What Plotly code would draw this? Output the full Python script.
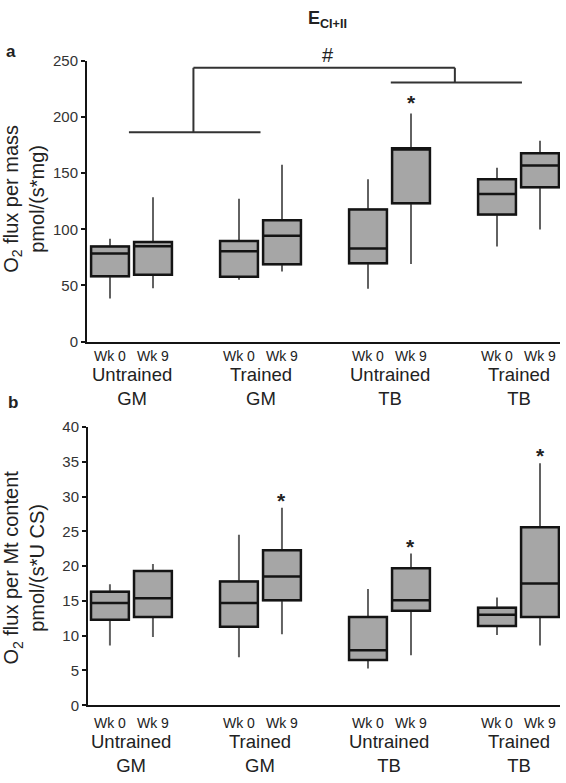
import plotly.graph_objects as go

# ---------------- data ----------------
groups = ["Untrained<br>GM", "Trained<br>GM", "Untrained<br>TB", "Trained<br>TB"]
weeks = ["Wk 0", "Wk 9"]
positions = [0, 1, 3, 4, 6, 7, 9, 10]          # Wk0/Wk9 for each group
group_centers = [0.5, 3.5, 6.5, 9.5]

# Panel a: O2 flux per mass, pmol/(s*mg)
a_low = [38.3, 47.6, 55.1, 62.5, 47.0, 69.1, 84.8, 99.9]
a_q1 = [58.1, 59.5, 57.8, 68.8, 69.7, 123.1, 113.2, 137.4]
a_med = [78.4, 85.0, 80.4, 94.3, 83.0, 171.0, 131.5, 156.8]
a_q3 = [84.8, 88.6, 89.7, 108.0, 117.6, 172.2, 144.6, 167.8]
a_high = [91.5, 128.6, 127.2, 157.4, 144.6, 203.2, 154.8, 178.8]
a_ticks = [0, 50, 100, 150, 200, 250]
a_star_x = [7]
a_star_y = [213]

# Panel b: O2 flux per Mt content, pmol/(s*U CS)
b_low = [8.6, 9.8, 6.9, 10.2, 5.3, 7.2, 10.1, 8.6]
b_q1 = [12.3, 12.7, 11.3, 15.1, 6.5, 13.6, 11.4, 12.7]
b_med = [14.7, 15.4, 14.7, 18.5, 7.9, 15.1, 13.0, 17.5]
b_q3 = [16.3, 19.3, 17.8, 22.3, 12.7, 19.7, 14.0, 25.6]
b_high = [17.4, 20.3, 24.5, 28.4, 16.7, 21.8, 15.5, 34.8]
b_ticks = [0, 5, 10, 15, 20, 25, 30, 35, 40]
b_star_x = [4, 7, 10]
b_star_y = [29.5, 22.8, 35.9]

# significance bracket (panel a)
br_left = [0.44, 3.5, 186.4]      # x0, x1, y
br_right = [6.53, 9.58, 230.8]
br_top = [1.94, 8.02, 243.9]

# ---------------- figure ----------------
W, H = 566, 783
FONT = "Liberation Sans, Arial, sans-serif"
BOXFILL = "#a6a6a6"
WHISK = "#626262"
EDGE = "#141414"
TXT = "#222222"

fig = go.Figure()


def add_boxes(xa, ya, low, q1, med, q3, high):
    # whiskers
    fig.add_trace(go.Box(
        x=positions, q1=q1, median=med, q3=q3, lowerfence=low, upperfence=high,
        xaxis=xa, yaxis=ya, width=0.88, whiskerwidth=0,
        line=dict(color=WHISK, width=2), fillcolor="rgba(0,0,0,0)",
        boxpoints=False, showlegend=False, hoverinfo="skip"))
    # boxes
    fig.add_trace(go.Box(
        x=positions, q1=q1, median=med, q3=q3, lowerfence=q1, upperfence=q3,
        xaxis=xa, yaxis=ya, width=0.88, whiskerwidth=0,
        line=dict(color=EDGE, width=2.5), fillcolor=BOXFILL,
        boxpoints=False, showlegend=False, hoverinfo="skip"))


add_boxes("x", "y", a_low, a_q1, a_med, a_q3, a_high)
add_boxes("x2", "y2", b_low, b_q1, b_med, b_q3, b_high)


def py(p):  # pixel y -> paper
    return (H - p) / H


def px(p):
    return p / W


axis_common = dict(showline=True, linecolor=EDGE, linewidth=2, showgrid=False,
                   zeroline=False, mirror=False)

fig.update_layout(
    width=W, height=H, margin=dict(l=0, r=0, t=0, b=0),
    paper_bgcolor="white", plot_bgcolor="white",
    font=dict(family=FONT, color=TXT),
    boxmode="overlay",
    xaxis=dict(domain=[px(87), px(560)], range=[-0.535, 10.465], anchor="y",
               showticklabels=False, ticks="", **axis_common),
    yaxis=dict(domain=[py(340), py(53)], range=[0, 250], anchor="x",
               tickvals=a_ticks, ticks="outside", ticklen=4, tickwidth=2,
               tickcolor=EDGE, tickfont=dict(size=15, color="#333333"),
               **axis_common),
    xaxis2=dict(domain=[px(88), px(560)], range=[-0.51, 10.465], anchor="y2",
                showticklabels=False, ticks="", **axis_common),
    yaxis2=dict(domain=[py(711.7), py(427.3)], range=[0, 40], anchor="x2",
                tickvals=b_ticks, ticks="outside", ticklen=4, tickwidth=2,
                tickcolor=EDGE, tickfont=dict(size=15, color="#333333"),
                **axis_common),
)

ann = []


def add_text(x, y, text, size, xref="paper", yref="paper", angle=0, bold=False):
    ann.append(dict(x=x, y=y, xref=xref, yref=yref,
                    text=("<b>%s</b>" % text) if bold else text,
                    textangle=angle, showarrow=False,
                    font=dict(size=size, color=TXT),
                    xanchor="center", yanchor="middle"))


# week labels and group labels
for xa, wk_y, grp_y in [("x", 355, 386), ("x2", 730, 761)]:
    for i, pos in enumerate(positions):
        add_text(pos, py(wk_y), weeks[i % 2], 14, xref=xa)
    for g, c in zip(groups, group_centers):
        add_text(c, py(grp_y), g, 18.5, xref=xa)

# y titles
add_text(px(24), py(194), "O<sub>2</sub> flux per mass<br>pmol/(s*mg)", 20, angle=-90)
add_text(px(24), py(571), "O<sub>2</sub> flux per Mt content<br>pmol/(s*U CS)", 20, angle=-90)

# panel letters and title
add_text(px(11), py(43), "a", 17, bold=True)
add_text(px(13), py(402), "b", 17, bold=True)
add_text(px(327), py(11), "E<sub>CI+II</sub>", 18, bold=True)
add_text(px(328), py(47), "#", 20)

# stars
for xs, ys in zip(a_star_x, a_star_y):
    add_text(xs, ys, "*", 21, xref="x", yref="y", bold=True)
for xs, ys in zip(b_star_x, b_star_y):
    add_text(xs, ys, "*", 21, xref="x2", yref="y2", bold=True)
fig.update_layout(annotations=ann)

# bracket lines
line_style = dict(color="#333333", width=2)
shapes = [
    dict(type="line", xref="x", yref="y", x0=br_left[0], x1=br_left[1],
         y0=br_left[2], y1=br_left[2], line=line_style),
    dict(type="line", xref="x", yref="y", x0=br_right[0], x1=br_right[1],
         y0=br_right[2], y1=br_right[2], line=line_style),
    dict(type="line", xref="x", yref="y", x0=br_top[0], x1=br_top[1],
         y0=br_top[2], y1=br_top[2], line=line_style),
    dict(type="line", xref="x", yref="y", x0=br_top[0], x1=br_top[0],
         y0=br_left[2], y1=br_top[2], line=line_style),
    dict(type="line", xref="x", yref="y", x0=br_top[1], x1=br_top[1],
         y0=br_right[2], y1=br_top[2], line=line_style),
]
fig.update_layout(shapes=shapes)

fig.write_html("out.html", config={"displayModeBar": False},
               post_script="document.body.style.margin='0';document.body.style.overflow='hidden';")
